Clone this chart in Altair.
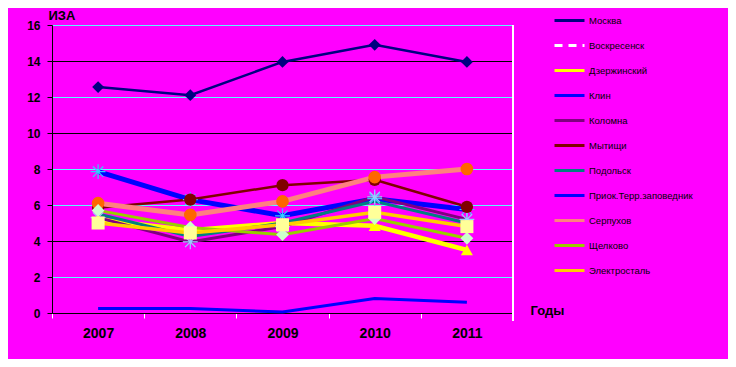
import altair as alt
import pandas as pd
import json

years = ["2007", "2008", "2009", "2010", "2011"]
series = ["Москва", "Воскресенск", "Дзержинский", "Клин", "Коломна", "Мытищи",
          "Подольск", "Приок.Терр.заповедник", "Серпухов", "Щелково", "Электросталь"]

moskva = [12.55, 12.1, 13.95, 14.9, 13.95]
voskresensk = [None, None, None, None, None]  # no line visible in the picture
dzerzhinsky = [5.2, 4.6, 5.0, 4.85, 3.5]
klin = [7.85, 6.3, 5.4, 6.35, 5.75]
kolomna = [5.3, 3.95, 4.8, 6.45, 5.2]
mytishchi = [5.85, 6.3, 7.1, 7.4, 5.9]
podolsk = [5.5, 4.25, 5.0, 6.2, 5.0]
priok = [0.25, 0.25, 0.05, 0.8, 0.6]
serpukhov = [6.1, 5.45, 6.2, 7.55, 8.0]
shchelkovo = [5.7, 4.75, 4.35, 5.25, 4.15]
elektrostal = [5.0, 4.45, 4.9, 5.6, 4.8]

values = [moskva, voskresensk, dzerzhinsky, klin, kolomna, mytishchi,
          podolsk, priok, serpukhov, shchelkovo, elektrostal]

rows = []
for s, vals in zip(series, values):
    for y, v in zip(years, vals):
        if v is not None:
            rows.append({"series": s, "year": y, "value": v})
df = pd.DataFrame(rows)

line_colors = ["#000080", "#ffffff", "#ffff00", "#0000ff", "#800080", "#800000",
               "#008080", "#0000ff", "#ff8080", "#99cc00", "#ffcc00"]
widths = [2.5, 1.5, 4.5, 5, 3, 2.5, 3, 3, 5, 3, 3.5]
width_expr = json.dumps(dict(zip(series, widths)), ensure_ascii=False) + "[datum.series]"

filled_series = ["Москва", "Дзержинский", "Мытищи", "Подольск", "Серпухов",
                 "Щелково", "Электросталь"]
filled_shapes = ["diamond", "triangle-up", "circle", "stroke", "circle", "diamond", "square"]
filled_fill = ["#000080", "#ffff00", "#800000", "#008080", "#ff6600", "#ccffcc", "#ffff99"]
filled_size = [140, 170, 150, 40, 230, 110, 170]

star_series = ["Клин", "Коломна"]
star_color = ["#33ccff", "#99ccff"]
star_path = "M-1,0L1,0M0,-1L0,1M-0.7,-0.7L0.7,0.7M-0.7,0.7L0.7,-0.7"

x_enc = alt.X("year:N", title="Годы",
              axis=alt.Axis(labelAngle=0, labelFont="Liberation Sans", labelFontWeight="bold",
                            labelFontSize=14, labelColor="black", labelPadding=8,
                            tickBand="extent", tickColor="white", tickSize=5,
                            domainColor="black", grid=False,
                            titleFont="Liberation Sans", titleFontWeight="bold",
                            titleFontSize=13, titleColor="black", titleAlign="left",
                            titleBaseline="middle", titleX=478, titleY=-3, titleAngle=0),
              scale=alt.Scale(domain=years, paddingInner=0, paddingOuter=0))

grid_cond = alt.condition("datum.value == 4 || datum.value == 10 || datum.value == 14 || datum.value == 0",
                          alt.value("black"), alt.value("#55ffff"))

y_enc = alt.Y("value:Q", title="ИЗА",
              scale=alt.Scale(domain=[0, 16], nice=False),
              axis=alt.Axis(values=[0, 2, 4, 6, 8, 10, 12, 14, 16],
                            labelFont="Liberation Sans", labelFontWeight="bold",
                            labelFontSize=12, labelColor="black", labelPadding=7,
                            tickColor="black", tickSize=5, domainColor="black",
                            grid=True, gridColor=grid_cond, gridOpacity=1,
                            titleFont="Liberation Sans", titleFontWeight="bold",
                            titleFontSize=13, titleColor="black", titleAngle=0,
                            titleAlign="left", titleBaseline="bottom", titleX=-4, titleY=-3))

legend = alt.Legend(title=None, orient="none", legendX=501, legendY=-21,
                    symbolType="stroke", symbolSize=900,
                    symbolStrokeWidth=3, labelFont="Liberation Sans",
                    labelFontSize=9.5, labelColor="black",
                    rowPadding=2, padding=0, labelOffset=3, labelLimit=300,
                    symbolDash=alt.ExprRef(expr="datum.value == 'Воскресенск' ? [8, 6] : [1, 0]"))

lines = alt.Chart(df).transform_calculate(w=width_expr).mark_line().encode(
    x=x_enc,
    y=y_enc,
    color=alt.Color("series:N", scale=alt.Scale(domain=series, range=line_colors),
                    legend=legend),
    strokeWidth=alt.StrokeWidth("w:Q", scale=None, legend=None),
)

star_pts = alt.Chart(df).transform_filter(
    alt.FieldOneOfPredicate(field="series", oneOf=star_series)
).mark_point(filled=False, shape=star_path, size=220, strokeWidth=1.2, opacity=1).encode(
    x=x_enc,
    y=y_enc,
    stroke=alt.Stroke("series:N", scale=alt.Scale(domain=star_series, range=star_color), legend=None),
)

filled_pts = alt.Chart(df).transform_filter(
    alt.FieldOneOfPredicate(field="series", oneOf=filled_series)
).mark_point(filled=True, opacity=1).encode(
    x=x_enc,
    y=y_enc,
    shape=alt.Shape("series:N", scale=alt.Scale(domain=filled_series, range=filled_shapes), legend=None),
    fill=alt.Fill("series:N", scale=alt.Scale(domain=filled_series, range=filled_fill), legend=None),
    size=alt.Size("series:N", scale=alt.Scale(domain=filled_series, range=filled_size), legend=None),
)

frame = alt.Chart(df).mark_rule(color="white", strokeWidth=1.5).encode(
    x=alt.value(461), y=alt.value(0), y2=alt.value(296)
)

chart = alt.layer(lines, star_pts, filled_pts, frame).resolve_scale(
    color="independent", shape="independent", size="independent"
).properties(
    width=461, height=288,
    autosize=alt.AutoSizeParams(type="none"),
    padding={"left": 44, "top": 17, "right": 215, "bottom": 46},
).configure(background="#ff00ff").configure_view(stroke=None)

chart.save("out.html", embed_options={"renderer": "svg", "actions": False})
